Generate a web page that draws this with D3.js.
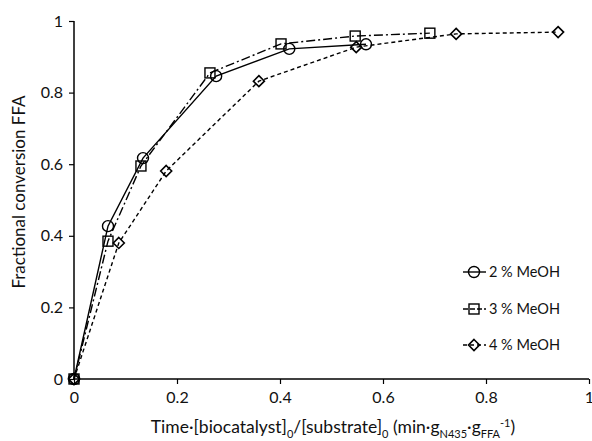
<!DOCTYPE html>
<html>
<head>
<meta charset="utf-8">
<script src="https://cdn.jsdelivr.net/npm/d3@7"></script>
<style>
  body { margin: 0; background: #fff; }
  text { font-family: Lato, "Open Sans", sans-serif; fill: #111; }
</style>
</head>
<body>
<div id="chart"></div>
<script>
// Series
var meoh2X = [0, 0.066, 0.134, 0.276, 0.418, 0.567];
var meoh2Y = [0, 0.427, 0.617, 0.846, 0.922, 0.935];
var meoh3X = [0, 0.066, 0.130, 0.264, 0.402, 0.546, 0.691];
var meoh3Y = [0, 0.385, 0.595, 0.855, 0.936, 0.958, 0.966];
var meoh4X = [0, 0.087, 0.179, 0.359, 0.548, 0.742, 0.940];
var meoh4Y = [0, 0.380, 0.581, 0.832, 0.927, 0.964, 0.969];
var xTicks = [0, 0.2, 0.4, 0.6, 0.8, 1];
var yTicks = [0, 0.2, 0.4, 0.6, 0.8, 1];
var seriesNames = ["2 % MeOH", "3 % MeOH", "4 % MeOH"];

var width = 592, height = 441;
var margin = {top: 21, right: 3, bottom: 62, left: 74};

var svg = d3.select("#chart").append("svg")
  .attr("width", width)
  .attr("height", height);

var x = d3.scaleLinear().domain([0, 1]).range([margin.left, width - margin.right]);
var y = d3.scaleLinear().domain([0, 1]).range([height - margin.bottom, margin.top]);

// Axes
svg.append("g")
  .attr("transform", "translate(0," + y(0) + ")")
  .call(d3.axisBottom(x).tickValues(xTicks).tickSize(5).tickFormat(d3.format("")))
  .call(function(g) {
    g.select(".domain").attr("stroke-width", 1.5).attr("d", "M" + x(0) + ",0H" + x(1));
    g.selectAll(".tick line").attr("stroke-width", 1.2);
    g.selectAll(".tick text").attr("y", 13).style("font-size", "16px");
  });

svg.append("g")
  .attr("transform", "translate(" + x(0) + ",0)")
  .call(d3.axisLeft(y).tickValues(yTicks).tickSize(5).tickFormat(d3.format("")))
  .call(function(g) {
    g.select(".domain").attr("stroke-width", 1.5).attr("d", "M0," + y(0) + "V" + y(1));
    g.selectAll(".tick line").attr("stroke-width", 1.2);
    g.selectAll(".tick text").attr("x", -11).style("font-size", "16px");
  });

// Axis titles
svg.append("text")
  .attr("transform", "translate(25," + (y(0.5) - 8) + ") rotate(-90)")
  .attr("text-anchor", "middle")
  .style("font-size", "17px")
  .text("Fractional conversion FFA");

var xt = svg.append("text")
  .attr("x", 333)
  .attr("y", 433)
  .attr("text-anchor", "middle")
  .style("font-size", "17.5px");
xt.append("tspan").text("Time·[biocatalyst]");
xt.append("tspan").attr("dy", 5).style("font-size", "11px").text("0");
xt.append("tspan").attr("dy", -5).text("/[substrate]");
xt.append("tspan").attr("dy", 5).style("font-size", "11px").text("0");
xt.append("tspan").attr("dy", -5).text(" (min·g");
xt.append("tspan").attr("dy", 5).style("font-size", "11px").text("N435");
xt.append("tspan").attr("dy", -5).text("·g");
xt.append("tspan").attr("dy", 5).style("font-size", "11px").text("FFA");
xt.append("tspan").attr("dy", -11).style("font-size", "11px").text("-1");
xt.append("tspan").attr("dy", 6).text(")");

// Lines and markers
var series = [
  {xs: meoh2X, ys: meoh2Y, dash: null, marker: "circle"},
  {xs: meoh3X, ys: meoh3Y, dash: "9,3,2,3", marker: "square"},
  {xs: meoh4X, ys: meoh4Y, dash: "4,3", marker: "diamond"}
];

var line = d3.line().x(function(d) { return x(d[0]); }).y(function(d) { return y(d[1]); });

function drawMarker(g, type, cx, cy) {
  if (type === "circle") {
    g.append("circle").attr("cx", cx).attr("cy", cy).attr("r", 5.5)
      .attr("fill", "none").attr("stroke", "#000").attr("stroke-width", 1.4);
  } else if (type === "square") {
    g.append("rect").attr("x", cx - 5).attr("y", cy - 5).attr("width", 10).attr("height", 10)
      .attr("fill", "none").attr("stroke", "#000").attr("stroke-width", 1.4);
  } else {
    g.append("path").attr("d", "M" + cx + "," + (cy - 5.5) + "L" + (cx + 5.5) + "," + cy +
        "L" + cx + "," + (cy + 5.5) + "L" + (cx - 5.5) + "," + cy + "Z")
      .attr("fill", "none").attr("stroke", "#000").attr("stroke-width", 1.6);
  }
}

series.forEach(function(s) {
  var pts = s.xs.map(function(v, i) { return [v, s.ys[i]]; });
  svg.append("path")
    .datum(pts)
    .attr("d", line)
    .attr("fill", "none")
    .attr("stroke", "#000")
    .attr("stroke-width", 1.4)
    .attr("stroke-dasharray", s.dash);
  var mg = svg.append("g");
  pts.forEach(function(p) { drawMarker(mg, s.marker, x(p[0]), y(p[1])); });
});

// Legend
var legendY = [272, 309, 345];
series.forEach(function(s, i) {
  var g = svg.append("g");
  g.append("line")
    .attr("x1", 463).attr("x2", 486)
    .attr("y1", legendY[i]).attr("y2", legendY[i])
    .attr("stroke", "#000").attr("stroke-width", 1.4)
    .attr("stroke-dasharray", i === 0 ? null : (i === 1 ? "5,2" : "4,3"));
  drawMarker(g, s.marker, 474, legendY[i]);
  g.append("text")
    .attr("x", 489).attr("y", legendY[i] + 5)
    .style("font-size", "14.5px")
    .text(seriesNames[i]);
});
</script>
</body>
</html>
